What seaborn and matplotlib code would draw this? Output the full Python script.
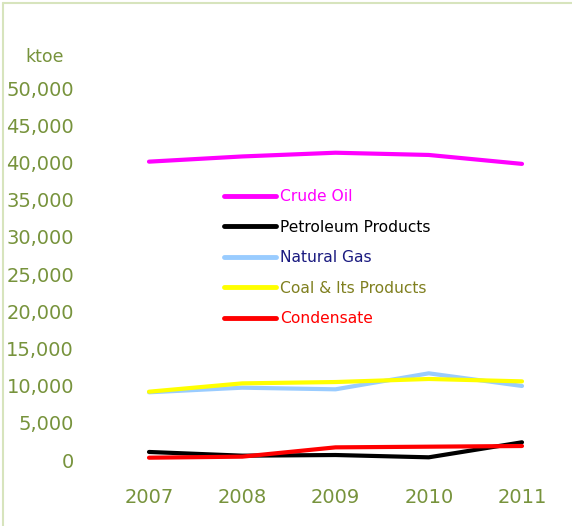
import numpy as np
import pandas as pd
import matplotlib
matplotlib.use("Agg")
import matplotlib.pyplot as plt
import seaborn as sns
from matplotlib.lines import Line2D
from matplotlib.ticker import FuncFormatter

# Data (ktoe)
years = [2007, 2008, 2009, 2010, 2011]
crude_oil = [40100, 40800, 41300, 41000, 39800]
petroleum_products = [1080, 580, 670, 360, 2380]
natural_gas = [9100, 9720, 9500, 11650, 9950]
coal_products = [9180, 10300, 10480, 10890, 10570]
condensate = [310, 450, 1700, 1790, 1880]

series_names = ["Crude Oil", "Petroleum Products", "Natural Gas",
                "Coal & Its Products", "Condensate"]
series_values = [crude_oil, petroleum_products, natural_gas, coal_products, condensate]
line_colors = ["#ff00ff", "#000000", "#99ccff", "#ffff00", "#ff0000"]
text_colors = ["#ff00ff", "#000000", "#1a1a80", "#808020", "#ff0000"]

olive = "#77933c"

sns.set_theme(style="white")
plt.rcParams["font.family"] = ["DejaVu Sans"]

W, H = 572, 526
fig = plt.figure(figsize=(W / 100, H / 100), dpi=100)

# axes placed in pixel terms
ax_l, ax_r, ax_t, ax_b = 85, 565, 80, 470
ax = fig.add_axes([ax_l / W, 1 - ax_b / H, (ax_r - ax_l) / W, (ax_b - ax_t) / H])

for name, vals, col in zip(series_names, series_values, line_colors):
    sns.lineplot(x=years, y=vals, ax=ax, color=col, linewidth=3.0,
                 solid_capstyle="round", legend=False)

px_per_year = 93.25
ax.set_xlim(2007 - 64 / px_per_year, 2011 + 43 / px_per_year)
per_px = 50000 / 372
ax.set_ylim(-10 * per_px, 50000 + 8 * per_px)

ax.set_xticks(years)
ax.set_yticks(np.arange(0, 50001, 5000))
ax.yaxis.set_major_formatter(FuncFormatter(lambda v, p: f"{int(v):,}"))
ax.tick_params(axis="both", colors=olive, labelsize=14, length=0)
ax.tick_params(axis="x", pad=13)
ax.tick_params(axis="y", pad=8)
for s in ax.spines.values():
    s.set_visible(False)
ax.grid(False)
ax.set_xlabel("")
ax.set_ylabel("")

fig.text(45 / W, 1 - 57 / H, "ktoe", color=olive, fontsize=12.5,
         ha="center", va="center")

# legend
handles = [Line2D([0], [0], color=c, linewidth=3.5, solid_capstyle="round")
           for c in line_colors]
leg = ax.legend(handles, series_names, loc="upper left",
                bbox_to_anchor=(218 / W, 1 - 183 / H), bbox_transform=fig.transFigure,
                frameon=False, fontsize=11.2, handlelength=3.3, handletextpad=0.3,
                labelspacing=1.0, borderaxespad=0)
for t, c in zip(leg.get_texts(), text_colors):
    t.set_color(c)

# light green frame on top and left
border = "#d7e4bd"
fig.add_artist(Line2D([3 / W, 1], [1 - 3 / H, 1 - 3 / H], transform=fig.transFigure,
                      color=border, linewidth=1.5))
fig.add_artist(Line2D([3 / W, 3 / W], [0, 1 - 3 / H], transform=fig.transFigure,
                      color=border, linewidth=1.5))

fig.savefig("out.png", dpi=100)
